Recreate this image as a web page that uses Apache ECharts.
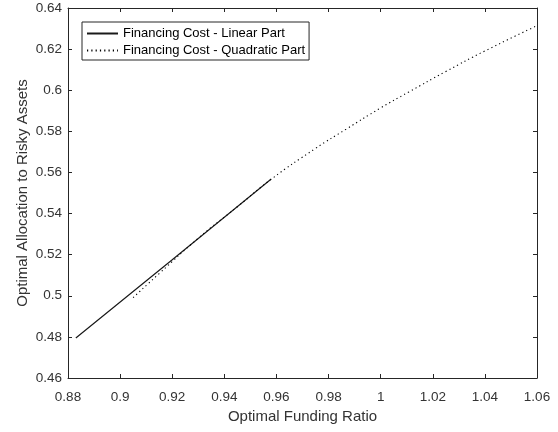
<!DOCTYPE html>
<html>
<head>
<meta charset="utf-8">
<script src="https://cdn.jsdelivr.net/npm/echarts@6/dist/echarts.min.js"></script>
<style>
  html, body { margin: 0; padding: 0; background: #fff; }
  #chart { width: 558px; height: 432px; }
</style>
</head>
<body>
<div id="chart"></div>
<script>
// Optimal allocation vs. optimal funding ratio, two financing-cost regimes
const linearFunding = [0.883, 0.92, 0.958];
const linearAllocation = [0.4795, 0.5175, 0.5568];

const quadFunding = [0.905, 0.915, 0.93, 0.945, 0.958, 0.975, 0.9867, 1.0, 1.0106, 1.025, 1.04, 1.06];
const quadAllocation = [0.4991, 0.5108, 0.528, 0.5433, 0.5567, 0.5717, 0.581, 0.5914, 0.599, 0.6091, 0.6191, 0.6314];

const seriesNames = ['Financing Cost - Linear Part', 'Financing Cost - Quadratic Part'];
const xTitle = 'Optimal Funding Ratio';
const yTitle = 'Optimal Allocation to Risky Assets';

const FONT = '"Liberation Sans", Arial, sans-serif';
const AXIS_COLOR = '#262626';
const LABEL_COLOR = '#333333';

function pairs(xs, ys) { return xs.map((x, i) => [x, ys[i]]); }

const xRange = { min: 0.88, max: 1.06, interval: 0.02 };
const yRange = { min: 0.46, max: 0.64, interval: 0.02 };

const lineCommon = { show: true, onZero: false, lineStyle: { color: AXIS_COLOR, width: 1 } };
const tickCommon = { show: true, inside: true, length: 4, lineStyle: { color: AXIS_COLOR, width: 1 } };
const labelCommon = { color: LABEL_COLOR, fontFamily: FONT, fontSize: 13.5 };

const chart = echarts.init(document.getElementById('chart'), null, { renderer: 'canvas' });
chart.setOption({
  animation: false,
  backgroundColor: '#ffffff',
  grid: { left: 68, right: 21, top: 8, bottom: 54, containLabel: false },
  legend: {
    orient: 'vertical',
    left: 82,
    top: 22,
    padding: [5, 4, 3, 4],
    itemWidth: 31,
    itemHeight: 14,
    itemGap: 4,
    borderColor: AXIS_COLOR,
    borderWidth: 1,
    backgroundColor: '#fff',
    itemStyle: { color: 'rgba(0,0,0,0)', borderWidth: 0, opacity: 0 },
    textStyle: { color: '#000', fontFamily: FONT, fontSize: 13 },
    data: seriesNames
  },
  xAxis: [
    Object.assign({
      type: 'value', position: 'bottom',
      name: xTitle, nameLocation: 'middle', nameGap: 31, nameMoveOverlap: false,
      nameTextStyle: { color: LABEL_COLOR, fontFamily: FONT, fontSize: 15 },
      axisLine: lineCommon, axisTick: tickCommon,
      axisLabel: Object.assign({ margin: 12 }, labelCommon),
      splitLine: { show: false }
    }, xRange),
    Object.assign({
      type: 'value', position: 'top',
      axisLine: lineCommon, axisTick: tickCommon,
      axisLabel: { show: false }, splitLine: { show: false }
    }, xRange)
  ],
  yAxis: [
    Object.assign({
      type: 'value', position: 'left',
      name: yTitle, nameLocation: 'middle', nameGap: 38, nameMoveOverlap: false,
      nameTextStyle: { color: LABEL_COLOR, fontFamily: FONT, fontSize: 15 },
      axisLine: lineCommon, axisTick: tickCommon,
      axisLabel: Object.assign({ margin: 6 }, labelCommon),
      splitLine: { show: false }
    }, yRange),
    Object.assign({
      type: 'value', position: 'right',
      axisLine: lineCommon, axisTick: tickCommon,
      axisLabel: { show: false }, splitLine: { show: false }
    }, yRange)
  ],
  series: [
    {
      name: seriesNames[0], type: 'line', xAxisIndex: 0, yAxisIndex: 0,
      data: pairs(linearFunding, linearAllocation),
      symbol: 'none', showSymbol: false, smooth: false,
      lineStyle: { color: '#1a1a1a', width: 1.2, type: 'solid' },
      itemStyle: { color: '#1a1a1a' }
    },
    {
      name: seriesNames[1], type: 'line', xAxisIndex: 0, yAxisIndex: 0,
      data: pairs(quadFunding, quadAllocation),
      symbol: 'none', showSymbol: false, smooth: true,
      lineStyle: { color: '#000', width: 1.1, type: [1.2, 3.1] },
      itemStyle: { color: '#000' }
    }
  ]
});
</script>
</body>
</html>
